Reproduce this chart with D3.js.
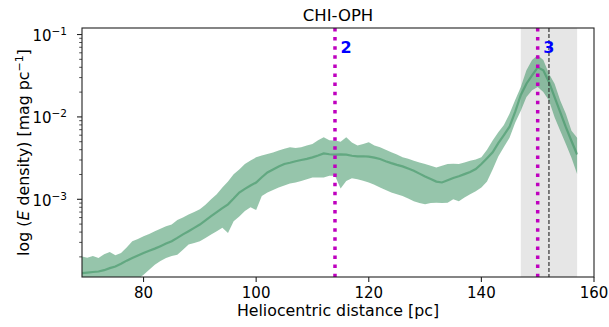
<!DOCTYPE html>
<html>
  <head>
    <style>
      body { margin: 0; background: #fff; }
      text { font-family: "DejaVu Sans", sans-serif; fill: #000; }
    </style>
  </head>
  <body>
    <script src="https://d3js.org/d3.v7.min.js"></script>
    <script>
      // distances [pc], one per 1 pc
      const dist = d3.range(69, 158);
      // median extinction density [mag/pc]
      const median = [
        1.27e-4, 1.29e-4, 1.31e-4, 1.33e-4, 1.38e-4, 1.46e-4, 1.53e-4, 1.65e-4, 1.80e-4, 1.94e-4,
        2.08e-4, 2.23e-4, 2.37e-4, 2.52e-4, 2.70e-4, 2.90e-4, 3.10e-4, 3.40e-4, 3.75e-4, 4.10e-4,
        4.50e-4, 4.94e-4, 5.55e-4, 6.25e-4, 7.0e-4, 7.8e-4, 8.7e-4, 1.02e-3, 1.21e-3, 1.34e-3,
        1.47e-3, 1.60e-3, 1.85e-3, 2.12e-3, 2.30e-3, 2.50e-3, 2.68e-3, 2.78e-3, 2.90e-3, 3.00e-3,
        3.10e-3, 3.23e-3, 3.40e-3, 3.61e-3, 3.52e-3, 3.48e-3, 3.50e-3, 3.48e-3, 3.38e-3, 3.32e-3,
        3.33e-3, 3.30e-3, 3.20e-3, 3.08e-3, 2.90e-3, 2.75e-3, 2.62e-3, 2.51e-3, 2.36e-3, 2.22e-3,
        2.05e-3, 1.89e-3, 1.76e-3, 1.64e-3, 1.60e-3, 1.70e-3, 1.81e-3, 1.90e-3, 2.02e-3, 2.15e-3,
        2.33e-3, 2.68e-3, 3.15e-3, 3.72e-3, 4.8e-3, 6.0e-3, 7.6e-3, 1.15e-2, 1.85e-2, 2.53e-2,
        3.2e-2, 4.0e-2, 3.68e-2, 2.65e-2, 1.74e-2, 1.14e-2, 7.5e-3, 5.1e-3, 3.5e-3
      ];
      // upper and lower edge of the shaded band
      const upper = [
        2.03e-4, 1.95e-4, 2.05e-4, 1.94e-4, 2.15e-4, 2.29e-4, 2.10e-4, 2.23e-4, 2.60e-4, 3.10e-4,
        3.30e-4, 3.56e-4, 3.80e-4, 4.10e-4, 4.40e-4, 4.70e-4, 4.94e-4, 5.60e-4, 6.00e-4, 6.56e-4,
        7.0e-4, 7.55e-4, 8.6e-4, 1.00e-3, 1.15e-3, 1.39e-3, 1.65e-3, 2.02e-3, 2.30e-3, 2.68e-3,
        2.95e-3, 3.23e-3, 3.40e-3, 3.55e-3, 3.70e-3, 3.90e-3, 4.10e-3, 4.28e-3, 4.20e-3, 4.28e-3,
        4.50e-3, 4.70e-3, 5.20e-3, 5.67e-3, 5.20e-3, 5.16e-3, 5.00e-3, 5.67e-3, 4.90e-3, 4.49e-3,
        4.70e-3, 4.92e-3, 4.50e-3, 4.28e-3, 4.00e-3, 3.72e-3, 3.50e-3, 3.23e-3, 3.10e-3, 2.94e-3,
        2.80e-3, 2.68e-3, 2.55e-3, 2.44e-3, 2.55e-3, 2.68e-3, 2.70e-3, 2.68e-3, 2.80e-3, 2.94e-3,
        3.05e-3, 3.23e-3, 4.0e-3, 5.16e-3, 6.5e-3, 8.0e-3, 1.09e-2, 1.6e-2, 2.3e-2, 3.68e-2,
        4.9e-2, 5.6e-2, 4.9e-2, 3.35e-2, 2.53e-2, 1.58e-2, 1.09e-2, 6.8e-3, 5.6e-3
      ];
      const lower = [
        9.0e-5, 9.5e-5, 9.0e-5, 9.5e-5, 9.0e-5, 9.5e-5, 1.0e-4, 9.5e-5, 1.0e-4, 1.05e-4,
        1.08e-4, 1.21e-4, 1.40e-4, 1.61e-4, 1.78e-4, 1.94e-4, 2.05e-4, 2.13e-4, 2.45e-4, 2.82e-4,
        2.95e-4, 3.10e-4, 3.40e-4, 3.73e-4, 4.10e-4, 4.51e-4, 3.9e-4, 5.43e-4, 6.2e-4, 7.2e-4,
        8.0e-4, 7.4e-4, 1.10e-3, 1.21e-3, 1.30e-3, 1.39e-3, 1.47e-3, 1.55e-3, 1.60e-3, 1.67e-3,
        1.75e-3, 1.84e-3, 1.84e-3, 1.84e-3, 1.93e-3, 1.93e-3, 1.35e-3, 1.67e-3, 1.80e-3, 1.75e-3,
        1.68e-3, 1.60e-3, 1.50e-3, 1.39e-3, 1.30e-3, 1.21e-3, 1.15e-3, 1.10e-3, 1.02e-3, 9.5e-4,
        9.0e-4, 8.69e-4, 9.0e-4, 9.1e-4, 9.0e-4, 9.1e-4, 1.0e-3, 9.5e-4, 1.05e-3, 1.15e-3,
        1.25e-3, 1.39e-3, 1.65e-3, 2.3e-3, 3.3e-3, 4.3e-3, 5.6e-3, 8.5e-3, 1.19e-2, 1.74e-2,
        2.1e-2, 2.3e-2, 2.0e-2, 1.58e-2, 9.9e-3, 6.8e-3, 4.7e-3, 3.2e-3, 2.03e-3
      ];
      const cloudLines = [114, 150];       // magenta dotted
      const cloudLabels = ["2", "3"];
      const dashedLine = 152;
      const spanRange = [147, 157];
      const xTicks = [80, 100, 120, 140, 160];
      const yTicks = [1e-3, 1e-2, 1e-1];
      const yTickExp = ["\u22123", "\u22122", "\u22121"];

      const W = 609, H = 327;
      const m = {left: 82, right: 594, top: 28, bottom: 277};

      const svg = d3.select("body").append("svg")
        .attr("width", W).attr("height", H);

      const x = d3.scaleLinear().domain([69.07, 160]).range([m.left, m.right]);
      const y = d3.scaleLog().domain([1.14e-4, 0.12]).range([m.bottom, m.top]);

      svg.append("clipPath").attr("id", "clip")
        .append("rect")
        .attr("x", m.left).attr("y", m.top)
        .attr("width", m.right - m.left).attr("height", m.bottom - m.top);

      const plot = svg.append("g").attr("clip-path", "url(#clip)");

      // grey span
      plot.append("rect")
        .attr("x", x(spanRange[0]))
        .attr("y", m.top)
        .attr("width", x(spanRange[1]) - x(spanRange[0]))
        .attr("height", m.bottom - m.top)
        .attr("fill", "gray").attr("fill-opacity", 0.2);

      const rows = dist.map((d, i) => ({d: d, med: median[i], hi: upper[i], lo: lower[i]}));

      const area = d3.area()
        .x(r => x(r.d))
        .y0(r => y(r.lo))
        .y1(r => y(r.hi));
      plot.append("path")
        .datum(rows)
        .attr("d", area)
        .attr("fill", "seagreen").attr("fill-opacity", 0.5);

      const line = d3.line().x(r => x(r.d)).y(r => y(r.med));
      plot.append("path")
        .datum(rows)
        .attr("d", line)
        .attr("fill", "none")
        .attr("stroke", "seagreen").attr("stroke-opacity", 0.5)
        .attr("stroke-width", 2.2);

      // dashed reference line
      plot.append("line")
        .attr("x1", x(dashedLine)).attr("x2", x(dashedLine))
        .attr("y1", m.top).attr("y2", m.bottom)
        .attr("stroke", "#333").attr("stroke-width", 1.2)
        .attr("stroke-dasharray", "4,2");

      // magenta dotted lines
      plot.selectAll(".cloud")
        .data(cloudLines)
        .enter().append("line")
        .attr("x1", d => x(d)).attr("x2", d => x(d))
        .attr("y1", m.top).attr("y2", m.bottom)
        .attr("stroke", "#bf00bf").attr("stroke-width", 3.5)
        .attr("stroke-dasharray", "3.5,5.6");

      svg.selectAll(".clabel")
        .data(cloudLines)
        .enter().append("text")
        .attr("x", d => x(d) + 5.5)
        .attr("y", 52.5)
        .style("fill", "blue")
        .attr("font-weight", "bold")
        .attr("font-size", 16)
        .text((d, i) => cloudLabels[i]);

      // frame
      svg.append("rect")
        .attr("x", m.left).attr("y", m.top)
        .attr("width", m.right - m.left).attr("height", m.bottom - m.top)
        .attr("fill", "none").attr("stroke", "#222").attr("stroke-width", 1.1);

      // x axis
      const xAxis = svg.append("g");
      xTicks.forEach(t => {
        xAxis.append("line")
          .attr("x1", x(t)).attr("x2", x(t))
          .attr("y1", m.bottom).attr("y2", m.bottom + 5)
          .attr("stroke", "#222").attr("stroke-width", 1.1);
        xAxis.append("text")
          .attr("x", x(t)).attr("y", m.bottom + 21)
          .attr("text-anchor", "middle")
          .attr("font-size", 15)
          .text(t);
      });

      // y axis major ticks
      const yAxis = svg.append("g");
      yTicks.forEach((t, i) => {
        yAxis.append("line")
          .attr("x1", m.left - 5).attr("x2", m.left)
          .attr("y1", y(t)).attr("y2", y(t))
          .attr("stroke", "#222").attr("stroke-width", 1.1);
        const lbl = yAxis.append("text")
          .attr("x", 67).attr("y", y(t) + 6.5)
          .attr("text-anchor", "end")
          .attr("font-size", 15);
        lbl.append("tspan").text("10");
        lbl.append("tspan").attr("dy", -6).attr("font-size", 10.5).text(yTickExp[i]);
      });
      // minor ticks
      const minor = [];
      [1e-4, 1e-3, 1e-2].forEach(dec => {
        for (let k = 2; k <= 9; k++) minor.push(dec * k);
      });
      minor.filter(v => v >= y.domain()[0] && v <= y.domain()[1]).forEach(v => {
        yAxis.append("line")
          .attr("x1", m.left - 2.8).attr("x2", m.left)
          .attr("y1", y(v)).attr("y2", y(v))
          .attr("stroke", "#222").attr("stroke-width", 0.8);
      });

      // title and axis labels
      svg.append("text")
        .attr("x", (m.left + m.right) / 2).attr("y", 21)
        .attr("text-anchor", "middle").attr("font-size", 16.5)
        .text("CHI-OPH");

      svg.append("text")
        .attr("x", (m.left + m.right) / 2).attr("y", 316)
        .attr("text-anchor", "middle").attr("font-size", 15.8)
        .text("Heliocentric distance [pc]");

      const yl = svg.append("text")
        .attr("transform", `translate(29,${(m.top + m.bottom) / 2}) rotate(-90)`)
        .attr("text-anchor", "middle").attr("font-size", 15.8);
      yl.append("tspan").text("log (");
      yl.append("tspan").attr("font-style", "italic").text("E");
      yl.append("tspan").text(" density) [mag pc");
      yl.append("tspan").attr("dy", -6).attr("font-size", 11).text("\u22121");
      yl.append("tspan").attr("dy", 6).text("]");
    </script>
  </body>
</html>
